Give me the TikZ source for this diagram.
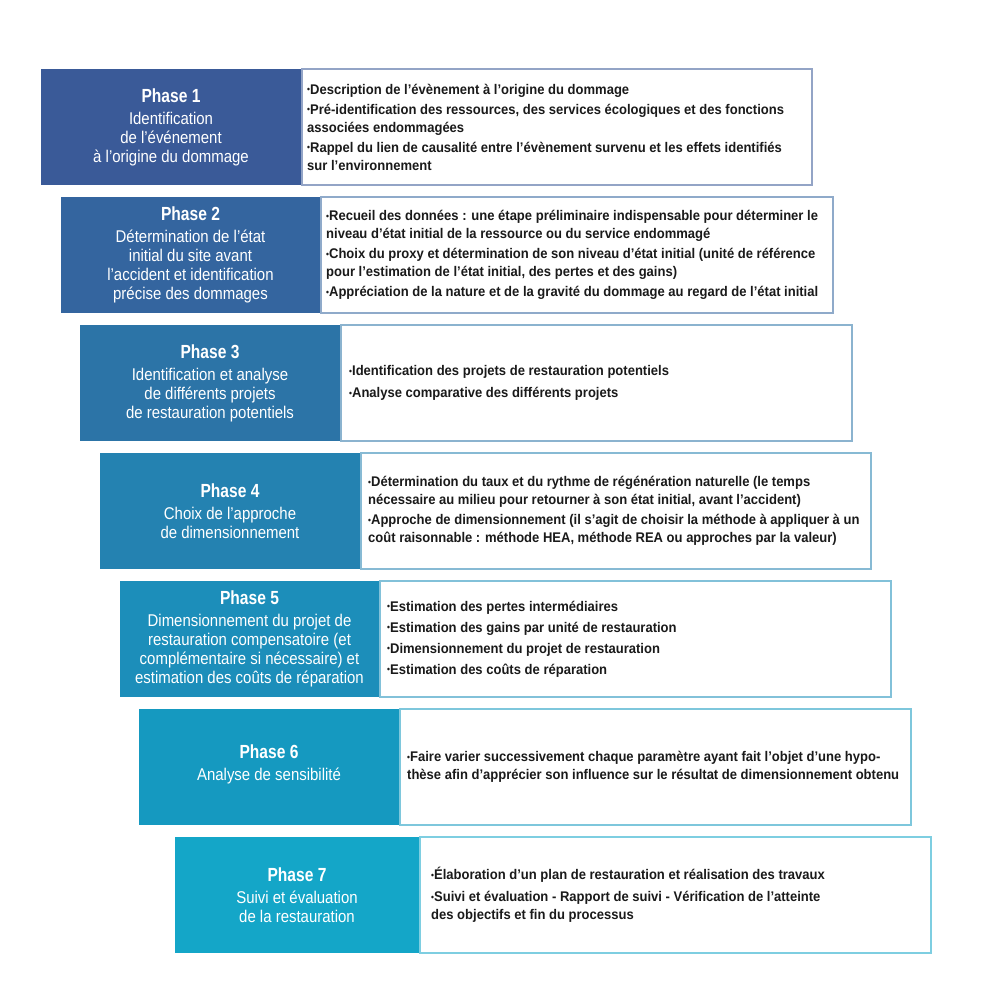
\documentclass[tikz,border=0pt]{standalone}
\usepackage{fontspec}
\setmainfont{Liberation Sans}
\newfontfamily\bodyfam[FakeStretch=0.93]{Liberation Sans}
\newfontfamily\subfam[FakeStretch=0.88]{Liberation Sans}
\newfontfamily\titlefam[FakeStretch=0.82]{Liberation Sans}
\definecolor{c1}{HTML}{3A5A98}
\definecolor{c2}{HTML}{34659F}
\definecolor{c3}{HTML}{2C74A7}
\definecolor{c4}{HTML}{2482B1}
\definecolor{c5}{HTML}{1C8EBA}
\definecolor{c6}{HTML}{1599C0}
\definecolor{c7}{HTML}{14A6C8}
\definecolor{bodytext}{HTML}{1A1A1A}
\newcommand{\subfont}{\subfam\fontsize{17}{19}\selectfont}
\newcommand{\descfont}{\bodyfam\bfseries\fontsize{14}{18}\selectfont}
\newcommand{\ttl}[1]{{\titlefam\fontsize{19}{19}\selectfont\bfseries #1}\\[3pt]}
\newcommand{\bul}{{\fontsize{9}{9}\selectfont\raisebox{1.3pt}{•}}}
\begin{document}
\begin{tikzpicture}[x=1pt,y=-1pt,
  ph/.style={draw=none, fill=#1, text=white, align=center, inner sep=0pt, font=\subfont, minimum height=116pt},
  descbox/.style={draw=#1!55, line width=1.8pt, fill=white, inner sep=0pt, anchor=west, minimum height=116pt},
  desctext/.style={align=left, inner sep=0pt, anchor=west, font=\descfont, text=bodytext}]
\useasboundingbox[fill=white] (0,0) rectangle (1000,1002);
% Phase 1
\node[descbox=c1, minimum width=510pt] (d1) at (301,127) {};
\node[desctext] (t1) at ([xshift=6pt]d1.west)
 {\bul Description de l’évènement à l’origine du dommage\\[2pt]
  \bul Pré-identification des ressources, des services écologiques et des fonctions\\
  associées endommagées\\[2pt]
  \bul Rappel du lien de causalité entre l’évènement survenu et les effets identifiés\\
  sur l’environnement};
\node[ph=c1, minimum width=260pt] (p1) at (171,127)
 {\ttl{Phase 1}Identification\\de l’événement\\à l’origine du dommage};
% Phase 2
\node[descbox=c2, minimum width=512pt] (d2) at (320,255) {};
\node[desctext] (t2) at ([xshift=6pt]d2.west)
 {\bul Recueil des données : une étape préliminaire indispensable pour déterminer le\\
  niveau d’état initial de la ressource ou du service endommagé\\[2pt]
  \bul Choix du proxy et détermination de son niveau d’état initial (unité de référence\\
  pour l’estimation de l’état initial, des pertes et des gains)\\[2pt]
  \bul Appréciation de la nature et de la gravité du dommage au regard de l’état initial};
\node[ph=c2, minimum width=259pt] (p2) at (190.5,255)
 {\ttl{Phase 2}Détermination de l’état\\initial du site avant\\l’accident et identification\\précise des dommages};
% Phase 3
\node[descbox=c3, minimum width=511pt] (d3) at (340,383) {};
\node[desctext] (t3) at ([xshift=9pt]d3.west)
 {\bul Identification des projets de restauration potentiels\\[4pt]
  \bul Analyse comparative des différents projets};
\node[ph=c3, minimum width=260pt] (p3) at (210,383)
 {\ttl{Phase 3}Identification et analyse\\de différents projets\\de restauration potentiels};
% Phase 4
\node[descbox=c4, minimum width=510pt] (d4) at (360,511) {};
\node[desctext] (t4) at ([xshift=8pt]d4.west)
 {\bul Détermination du taux et du rythme de régénération naturelle (le temps\\
  nécessaire au milieu pour retourner à son état initial, avant l’accident)\\[2pt]
  \bul Approche de dimensionnement (il s’agit de choisir la méthode à appliquer à un\\
  coût raisonnable : méthode HEA, méthode REA ou approches par la valeur)};
\node[ph=c4, minimum width=260pt] (p4) at (230,511)
 {\ttl{Phase 4}Choix de l’approche\\de dimensionnement};
% Phase 5
\node[descbox=c5, minimum width=511pt] (d5) at (379,639) {};
\node[desctext] (t5) at ([xshift=8pt]d5.west)
 {\bul Estimation des pertes intermédiaires\\[3pt]
  \bul Estimation des gains par unité de restauration\\[3pt]
  \bul Dimensionnement du projet de restauration\\[3pt]
  \bul Estimation des coûts de réparation};
\node[ph=c5, minimum width=259pt] (p5) at (249.5,639)
 {\ttl{Phase 5}Dimensionnement du projet de\\restauration compensatoire (et\\complémentaire si nécessaire) et\\estimation des coûts de réparation};
% Phase 6
\node[descbox=c6, minimum width=511pt] (d6) at (399,767) {};
\node[desctext] (t6) at ([xshift=8pt]d6.west)
 {\bul Faire varier successivement chaque paramètre ayant fait l’objet d’une hypo-\\
  thèse afin d’apprécier son influence sur le résultat de dimensionnement obtenu};
\node[ph=c6, minimum width=260pt] (p6) at (269,767)
 {\ttl{Phase 6}Analyse de sensibilité\\[-11pt]};
% Phase 7
\node[descbox=c7, minimum width=511pt] (d7) at (419,895) {};
\node[desctext] (t7) at ([xshift=12pt]d7.west)
 {\bul Élaboration d’un plan de restauration et réalisation des travaux\\[4pt]
  \bul Suivi et évaluation - Rapport de suivi - Vérification de l’atteinte\\
  des objectifs et fin du processus};
\node[ph=c7, minimum width=244pt] (p7) at (297,895)
 {\ttl{Phase 7}Suivi et évaluation\\de la restauration};
\end{tikzpicture}
\end{document}
